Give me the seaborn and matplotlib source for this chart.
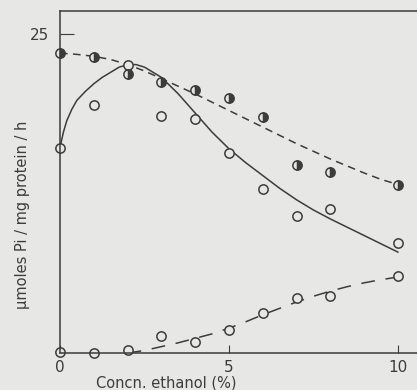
import matplotlib
matplotlib.use("Agg")
import matplotlib.pyplot as plt
import seaborn as sns

# measured points (x = % ethanol)
conc = [0, 1, 2, 3, 4, 5, 6, 7, 8, 10]
open_pts = [16.1, 19.4, 22.6, 18.6, 18.3, 15.7, 12.85, 10.7, 11.3, 8.6]
half_pts = [23.5, 23.2, 21.9, 21.2, 20.6, 20.0, 18.5, 14.7, 14.2, 13.2]
low_pts = [0.1, 0.0, 0.2, 1.3, 0.9, 1.8, 3.1, 4.3, 4.5, 6.0]

# fitted curves
solid_x = [0, 0.1, 0.2, 0.35, 0.5, 0.75, 1.0, 1.25, 1.5, 1.75, 2.0, 2.25, 2.5,
           3, 3.5, 4, 4.5, 5, 5.5, 6, 6.5, 7, 7.5, 8, 9, 10]
solid_y = [16.1, 17.3, 18.2, 19.1, 19.8, 20.5, 21.1, 21.6, 22.0, 22.4, 22.6, 22.6, 22.4,
           21.6, 20.3, 18.8, 17.3, 16.0, 14.9, 13.9, 12.9, 12.0, 11.2, 10.5, 9.2, 7.9]
dash_x = [0, 0.5, 1, 1.5, 2, 2.5, 3, 3.5, 4, 5, 6, 7, 8, 9, 9.5, 10]
dash_y = [23.5, 23.4, 23.25, 23.0, 22.6, 22.1, 21.5, 20.9, 20.3, 19.0, 17.7, 16.4,
          15.2, 14.1, 13.6, 13.2]
long_x = [2, 2.5, 3, 3.5, 4, 4.5, 5, 5.5, 6, 6.5, 7, 7.5, 8, 8.5, 9, 9.5, 10]
long_y = [0.0, 0.2, 0.5, 0.8, 1.15, 1.5, 1.95, 2.45, 3.0, 3.5, 4.0, 4.45, 4.85,
          5.2, 5.5, 5.75, 5.95]

bg = "#e7e7e5"
ink = "#3c3c3c"

sns.set_style("ticks")
plt.rcParams["font.family"] = ["DejaVu Sans"]

fig = plt.figure(figsize=(4.17, 3.9), dpi=100, facecolor=bg)
ax = fig.add_axes([0.1439, 0.0949, 0.8561, 0.8769], facecolor=bg)

sns.lineplot(x=solid_x, y=solid_y, color=ink, lw=1.1, ax=ax)
sns.lineplot(x=dash_x, y=dash_y, color=ink, lw=1.1, ax=ax,
             linestyle=(0, (5, 3.5)))
sns.lineplot(x=long_x, y=long_y, color=ink, lw=1.1, ax=ax,
             linestyle=(0, (9, 7)))

mk = dict(marker="o", linestyle="", markersize=6.7, markeredgewidth=1.1,
          markeredgecolor=ink, clip_on=False, ax=ax)
sns.lineplot(x=conc, y=open_pts, markerfacecolor=bg, **mk)
sns.lineplot(x=conc, y=low_pts, markerfacecolor=bg, **mk)
sns.lineplot(x=conc, y=half_pts, fillstyle="right", markerfacecolor=ink,
             markerfacecoloralt=bg, **mk)

ax.set_xlim(0, 10.56)
ax.set_ylim(0, 26.8)
ax.set_xticks([0, 5, 10])
ax.set_yticks([25])
ax.tick_params(axis="both", direction="in", colors=ink, labelsize=11)
ax.tick_params(axis="x", length=6, pad=5)
ax.tick_params(axis="y", length=10, pad=8)
for s in ["left", "bottom", "top"]:
    ax.spines[s].set_color(ink)
    ax.spines[s].set_linewidth(1.1)
ax.spines["right"].set_visible(False)

ax.set_xlabel("")
ax.set_ylabel("")
ax.text(0.297, -0.088, "Concn. ethanol (%)", transform=ax.transAxes,
        ha="center", va="center", fontsize=10.5, color=ink)
ax.text(-0.106, 0.404, "\u03bcmoles Pi / mg protein / h", transform=ax.transAxes,
        ha="center", va="center", rotation=90, fontsize=10.5, color=ink)

fig.savefig("out.png", dpi=100, facecolor=bg)
